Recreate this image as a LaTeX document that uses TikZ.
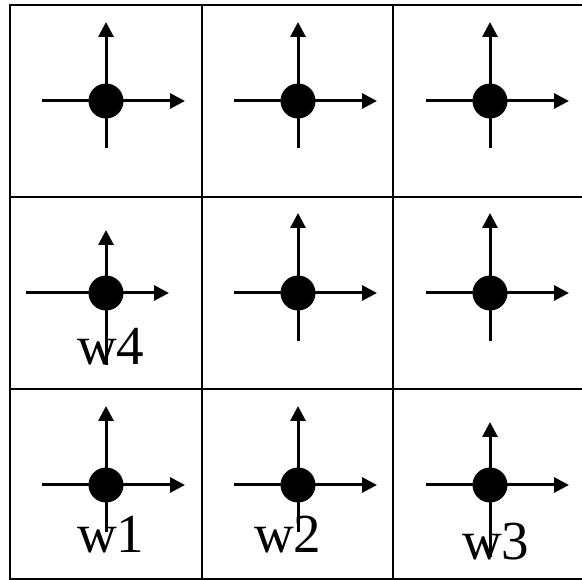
\documentclass[tikz,border=0pt]{standalone}
\usepackage{fontspec}
\setmainfont{Liberation Serif}
\usetikzlibrary{arrows.meta}
\begin{document}
\begin{tikzpicture}[x=1pt,y=-1pt,
  gridline/.style={line width=2.6pt, black},
  axis/.style={line width=3pt, -{Triangle[length=15pt,width=15pt]}},
  dot/.style={circle, fill=black, inner sep=0pt, minimum size=35pt},
  wlabel/.style={anchor=base west, inner sep=0pt, font=\fontsize{55}{60}\selectfont}]
\useasboundingbox (0,0) rectangle (582,580);
% grid of cells (right border lies past the page edge)
\draw[gridline] (10,5) rectangle (584,579.5);
\draw[gridline] (202,5) -- (202,579.5);
\draw[gridline] (393,5) -- (393,579.5);
\draw[gridline] (10,197) -- (584,197);
\draw[gridline] (10,389) -- (584,389);
% one particle per cell: name/cx/cy/left/right/top/bottom
\foreach \n/\cx/\cy/\l/\r/\t/\b in {
  p1/106/101/42/185/22/148,
  p2/298/101/234/377/22/148,
  p3/490/101/426/569/22/148,
  p4/106/293/26/169/230/365,
  p5/298/293/234/377/213/341,
  p6/490/293/426/569/213/341,
  p7/106/485/42/185/406/532,
  p8/298/485/234/377/406/532,
  p9/490/485/426/569/422/557}{
  \coordinate (\n-l) at (\l,\cy);
  \coordinate (\n-r) at (\r,\cy);
  \coordinate (\n-t) at (\cx,\t);
  \coordinate (\n-b) at (\cx,\b);
  \draw[axis] (\n-l) -- (\n-r);
  \draw[axis] (\n-b) -- (\n-t);
  \node[dot] (\n) at (\cx,\cy) {};
}
% labels
\node[wlabel] (w1) at (77,552) {w1};
\node[wlabel] (w2) at (254,552) {w2};
\node[wlabel] (w3) at (462,560) {w3};
\node[wlabel] (w4) at (77,365) {w4};
\end{tikzpicture}
\end{document}
